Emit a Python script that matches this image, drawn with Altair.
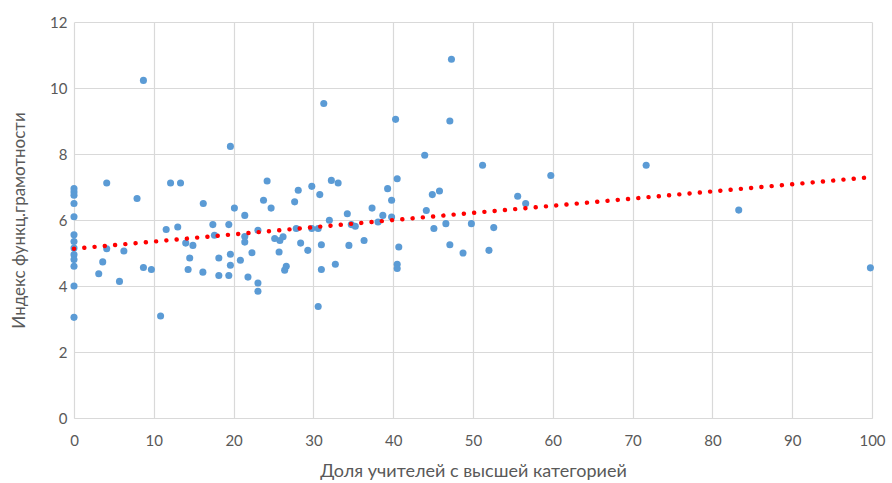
import altair as alt
import pandas as pd

# x = share of top-category teachers, y = functional literacy index
x_zero = [0] * 13
y_zero = [6.95, 6.85, 6.75, 6.5, 6.1, 5.55, 5.35, 5.15, 4.95, 4.8, 4.6, 4.0, 3.05]

x_rest = [4.1, 7.9, 12.1, 13.35, 11.55, 13.0, 4.1, 6.25, 3.6, 3.1, 5.7, 8.7, 9.7, 10.85,
          14.0, 14.9, 14.5, 14.3, 8.7, 19.6,
          16.2, 20.1, 21.4, 24.2, 23.75, 24.7, 28.1, 27.65, 29.8, 30.8,
          17.4, 19.4, 17.6, 16.15, 18.15, 18.15, 19.4, 19.6, 19.6, 20.85, 21.4, 21.4, 22.3,
          21.8, 23.05, 23.05, 23.05, 25.15, 25.8, 26.2, 25.7, 26.6, 26.4, 27.85, 28.4, 29.3,
          29.8, 30.6, 31.0, 31.0, 30.6,
          31.3, 40.3, 47.3, 47.1,
          43.95, 32.25, 33.1, 39.3, 40.5, 39.8, 44.9, 45.8, 34.25, 37.35, 32.0, 34.75, 35.25,
          38.1, 38.7, 39.8, 44.15, 45.1, 46.6, 34.45, 36.35, 40.7, 47.1, 32.75, 40.5, 40.5,
          51.2, 59.75, 55.6, 56.6, 49.8, 52.6, 48.75, 52.0,
          71.7, 83.3, 99.8]
y_rest = [7.12, 6.65, 7.12, 7.12, 5.71, 5.79, 5.13, 5.06, 4.73, 4.37, 4.14, 4.56, 4.5, 3.09,
          5.3, 5.23, 4.85, 4.5, 10.23, 8.23,
          6.5, 6.36, 6.14, 7.18, 6.6, 6.36, 6.9, 6.55, 7.02, 6.77,
          5.86, 5.86, 5.54, 4.42, 4.85, 4.32, 4.32, 4.96, 4.63, 4.78, 5.5, 5.33, 5.01,
          4.27, 4.09, 3.84, 5.69, 5.44, 5.38, 5.49, 5.03, 4.6, 4.48, 5.74, 5.3, 5.08,
          5.74, 5.74, 5.25, 4.5, 3.38,
          9.53, 9.05, 10.87, 9.0,
          7.96, 7.2, 7.12, 6.95, 7.25, 6.6, 6.77, 6.88, 6.19, 6.36, 5.99, 5.86, 5.81,
          5.94, 6.14, 6.09, 6.29, 5.74, 5.89, 5.23, 5.38, 5.18, 5.25, 4.66, 4.66, 4.53,
          7.66, 7.35, 6.72, 6.5, 5.89, 5.77, 5.0, 5.08,
          7.66, 6.3, 4.55]

trend_x = [0, 100]
trend_y = [5.13, 7.3]

x_ticks = [0, 10, 20, 30, 40, 50, 60, 70, 80, 90, 100]
y_ticks = [0, 2, 4, 6, 8, 10, 12]

x_title = "Доля учителей с высшей категорией"
y_title = "Индекс функц.грамотности"

pts = pd.DataFrame({"x": x_zero + x_rest, "y": y_zero + y_rest})
trend = pd.DataFrame({"x": trend_x, "y": trend_y})

FONT = "Lato, Open Sans, sans-serif"

xs = alt.Scale(domain=[0, 100], nice=False, zero=False)
ys = alt.Scale(domain=[0, 12], nice=False)

x_axis = alt.Axis(values=x_ticks, title=x_title, grid=True, ticks=False,
                  domainColor="#D9D9D9", domainWidth=1.2, labelFlush=False,
                  labelPadding=15, titlePadding=14, titleFontSize=18)
y_axis = alt.Axis(values=y_ticks, title=y_title, grid=True, ticks=False,
                  domain=False, labelPadding=7, titlePadding=21)

points = alt.Chart(pts).mark_circle(color="#5B9BD5", opacity=1, size=50).encode(
    x=alt.X("x:Q", scale=xs, axis=x_axis),
    y=alt.Y("y:Q", scale=ys, axis=y_axis),
)

line = alt.Chart(trend).mark_line(
    color="#FF0000", strokeWidth=4.4, strokeDash=[0.1, 10.2], strokeCap="round"
).encode(
    x=alt.X("x:Q", scale=xs),
    y=alt.Y("y:Q", scale=ys),
)

chart = (points + line).properties(
    width=798, height=396,
    padding={"left": 74, "top": 22, "right": 20, "bottom": 65},
    autosize=alt.AutoSizeParams(type="none"),
    background="white",
).configure_view(stroke=None).configure_axis(
    gridColor="#D9D9D9", gridWidth=1.2,
    labelFont=FONT, labelFontSize=15, labelColor="#595959",
    titleFont=FONT, titleFontSize=17, titleColor="#595959", titleFontWeight="normal",
)

chart.save("out.html", embed_options={"renderer": "svg", "actions": False})
